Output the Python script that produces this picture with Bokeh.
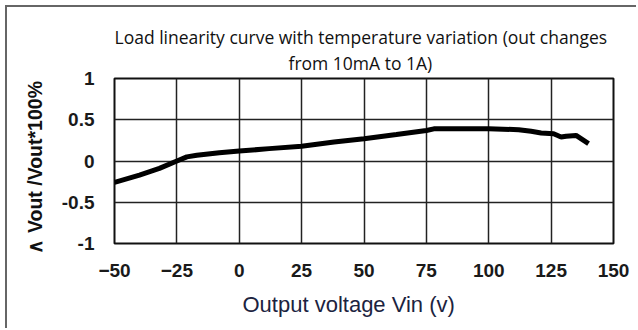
from bokeh.plotting import figure
from bokeh.models import Title, FixedTicker
from bokeh.embed import file_html
from bokeh.resources import INLINE

# data
temperature = [-50, -40, -32, -25, -21, -17, -8, 0, 12, 25, 38, 50, 63, 75, 78, 89, 100, 112, 117, 121, 126, 129, 131, 135, 140]
deviation = [-0.26, -0.17, -0.09, 0.0, 0.05, 0.07, 0.10, 0.12, 0.15, 0.18, 0.23, 0.27, 0.32, 0.37, 0.39, 0.39, 0.39, 0.38, 0.36, 0.34, 0.33, 0.29, 0.30, 0.31, 0.21]
x_ticks = [-50, -25, 0, 25, 50, 75, 100, 125, 150]
y_ticks = [-1, -0.5, 0, 0.5, 1]
title_line1 = "Load linearity curve with temperature variation (out changes"
title_line2 = "from 10mA to 1A)"
x_label = "Output voltage Vin (v)"
y_label = "\u2227 Vout /Vout*100%"

p = figure(width=631, height=323, x_range=(-50, 150), y_range=(-1, 1),
           output_backend="svg", toolbar_location=None, title=None,
           min_border_left=107, min_border_right=25, min_border_top=71, min_border_bottom=87)
p.styles = {"margin-left": "5px", "margin-top": "5px",
            "border-left": "2px solid #666", "border-top": "2px solid #666"}

title_kw = dict(align="left", text_font="Open Sans", text_font_size="17.5px",
                text_font_style="normal", text_color="#111111")
# small invisible spacer between the frame and the title lines
p.add_layout(Title(text=" ", standoff=0, text_font_size="2px"), "above")
p.add_layout(Title(text=title_line2, standoff=0, offset=174, **title_kw), "above")
p.add_layout(Title(text=title_line1, standoff=0, offset=0, **title_kw), "above")

p.line(temperature, deviation, line_color="black", line_width=5)

for ax in (p.xaxis, p.yaxis):
    ax.axis_line_color = None
    ax.major_tick_line_color = None
    ax.minor_tick_line_color = None
    ax.major_label_text_font = "Liberation Sans"
    ax.major_label_text_font_size = "19px"
    ax.major_label_text_font_style = "bold"
    ax.major_label_text_color = "#1a1a1a"
    ax.major_label_standoff = 14

p.xaxis.ticker = FixedTicker(ticks=x_ticks)
p.yaxis.ticker = FixedTicker(ticks=y_ticks)
p.yaxis.major_label_overrides = {-1: "-1", -0.5: "-0.5", 0: "0", 0.5: "0.5", 1: "1"}

p.add_layout(Title(text=x_label, align="left", offset=128, standoff=21,
                   text_font="Liberation Sans", text_font_size="22px",
                   text_font_style="normal", text_color="#1c2340"), "below")
p.add_layout(Title(text=y_label, align="left", offset=-10, standoff=26,
                   text_font="Liberation Sans", text_font_size="19.5px",
                   text_font_style="bold", text_color="#111111"), "left")

p.xgrid.ticker = FixedTicker(ticks=x_ticks)
p.ygrid.ticker = FixedTicker(ticks=y_ticks)
p.xgrid.grid_line_color = "#222222"
p.ygrid.grid_line_color = "#222222"
p.xgrid.grid_line_width = 1.5
p.ygrid.grid_line_width = 1.5
p.outline_line_color = "#111111"
p.outline_line_width = 2
p.background_fill_color = "white"
p.border_fill_color = "white"

open("out.html", "w").write(file_html(p, INLINE))
